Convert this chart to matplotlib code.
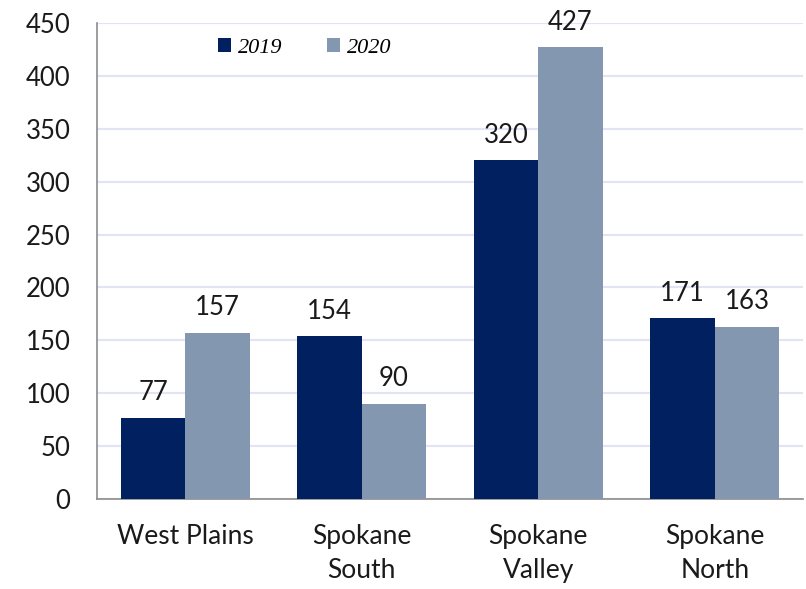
import matplotlib
matplotlib.use("Agg")
import matplotlib.pyplot as plt
import numpy as np

categories = ["West Plains", "Spokane\nSouth", "Spokane\nValley", "Spokane\nNorth"]
series_names = ["2019", "2020"]
values_2019 = [77, 154, 320, 171]
values_2020 = [157, 90, 427, 163]
yticks = [0, 50, 100, 150, 200, 250, 300, 350, 400, 450]

colors = ["#002060", "#8497B0"]

plt.rcParams['font.family'] = ['Lato', 'DejaVu Sans']

fig = plt.figure(figsize=(8.06, 5.89), dpi=100)
ax = fig.add_axes([0.1203, 0.1528, 0.876, 0.8082])

x = np.arange(len(categories))
w = 0.365
b1 = ax.bar(x - w/2, values_2019, w, color=colors[0], label=series_names[0], zorder=3)
b2 = ax.bar(x + w/2, values_2020, w, color=colors[1], label=series_names[1], zorder=3)

for bars in (b1, b2):
    for r in bars:
        ax.annotate(f"{int(r.get_height())}", (r.get_x() + r.get_width()/2, r.get_height()),
                    xytext=(0, 9), textcoords="offset points", ha="center", va="bottom",
                    fontsize=18.5, color="#1a1a1a")

ax.set_xlim(-0.5, len(categories) - 0.5)
ax.set_ylim(0, 450)
ax.set_yticks(yticks)
ax.set_yticklabels([str(t) for t in yticks], fontsize=18.5, color="#1a1a1a")
ax.set_xticks(x)
ax.set_xticklabels(categories, fontsize=19, color="#1a1a1a", linespacing=1.45)
ax.tick_params(axis='both', length=0)
ax.tick_params(axis='y', pad=19)
ax.tick_params(axis='x', pad=18)

ax.yaxis.grid(True, color="#E0E4F4", linewidth=1.5, zorder=0)
ax.set_axisbelow(True)
for s in ["top", "right"]:
    ax.spines[s].set_visible(False)
for s in ["left", "bottom"]:
    ax.spines[s].set_color("#8c8c8c")
    ax.spines[s].set_linewidth(1.2)

leg = ax.legend(loc="upper left", bbox_to_anchor=(0.143, 1.01), ncol=2, frameon=False,
                prop={'family': 'Liberation Serif', 'style': 'italic', 'size': 16},
                handlelength=0.6, handleheight=0.6, handletextpad=0.3, columnspacing=2.0)

fig.savefig("out.png", dpi=100)
